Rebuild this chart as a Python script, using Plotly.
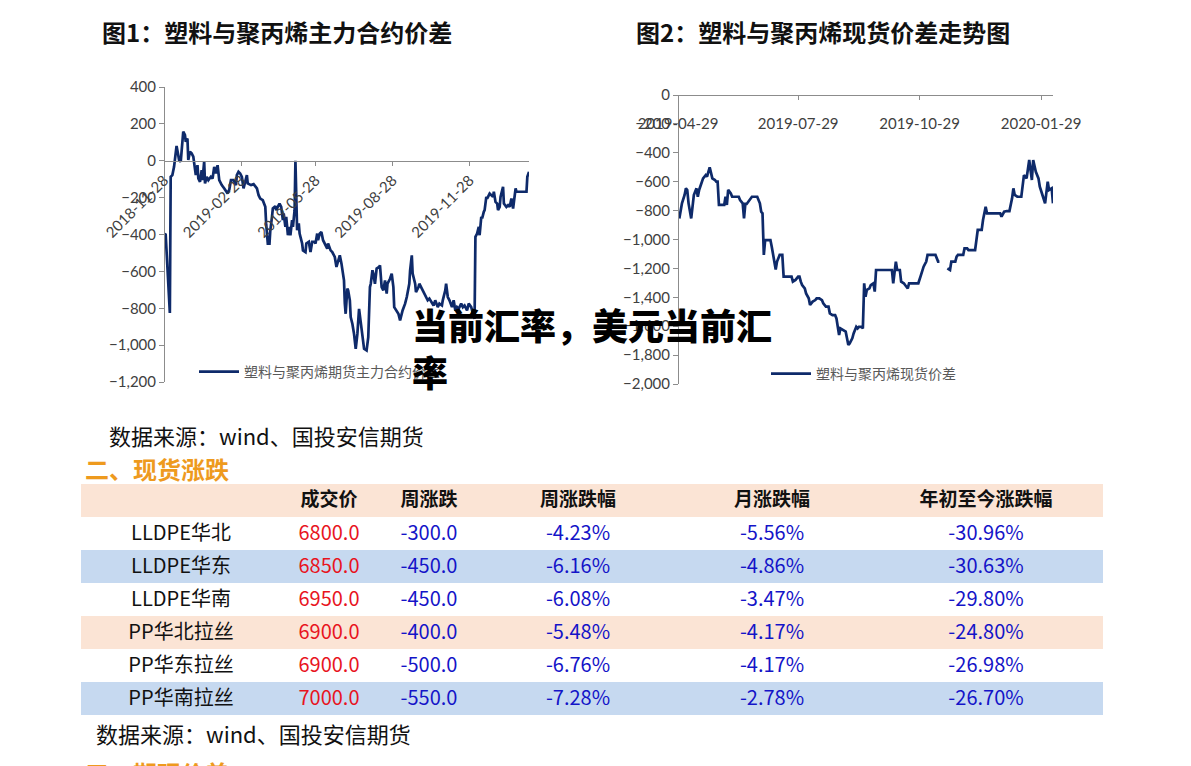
import pandas as pd
import plotly.graph_objects as go

# ---------------- data ----------------
# Chart 1: days after 2018-11-28, spread values
start1 = "2018-11-28"
days1 = [0, 2, 3, 4, 7, 8, 10, 12, 14, 15, 17, 18, 20, 21, 23, 25, 26, 28, 29, 31, 33, 35, 37, 38, 40, 41, 43, 45, 46, 48,
         49, 51, 53, 56, 58, 60, 62, 64, 66, 69, 72, 76, 78, 80, 83, 86, 87, 89, 91, 93, 95, 97, 99, 100, 103, 104, 107, 109,
         111, 113, 115, 118, 119, 121, 122, 124, 126, 127, 129, 130, 133, 134, 137, 138, 140, 142, 143, 145, 146, 148, 150,
         151, 153, 154, 156, 157, 159, 161, 162, 165, 166, 169, 170, 173, 175, 177, 180, 181, 183, 184, 186, 188, 190, 192,
         195, 196, 199, 201, 204, 206, 208, 210, 212, 215, 216, 217, 219, 220, 222, 223, 225, 227, 229, 231, 233, 235, 237,
         239, 242, 244, 246, 247, 249, 250, 252, 254, 257, 258, 260, 262, 264, 266, 267, 270, 272, 274, 275, 278, 280, 282,
         285, 288, 290, 293, 294, 296, 297, 300, 301, 304, 305, 308, 310, 313, 315, 317, 320, 322, 324, 327, 329, 332, 333,
         336, 337, 339, 341, 344, 346, 348, 350, 352, 355, 357, 359, 362, 364, 367, 368, 371, 372, 374, 376, 377, 379, 380,
         382, 383, 385, 386, 389, 391, 393, 394, 396, 398, 399, 401, 402, 405, 406, 409, 411, 413, 415, 417, 418, 420, 421,
         425, 429, 433, 434, 436]
vals1 = [-395, -400, -485, -595, -826, -87, -78, -33, 58, 80, 31, 4, -5, 58, 158, 140, 103, 121, 4, 49, 40, 22, -33, -78,
         -24, -96, -114, -51, -105, -5, -123, -87, -105, -87, -96, -33, -69, -24, -105, -132, -150, -178, -156, -105, -105,
         -132, -78, -60, -69, -87, -150, -114, -78, -123, -132, -132, -127, -141, -150, -187, -205, -214, -223, -250, -340,
         -450, -450, -377, -304, -259, -246, -268, -241, -232, -250, -322, -286, -359, -304, -404, -359, -404, -322, -359,
         -268, 0, -377, -340, -395, -449, -486, -495, -449, -440, -495, -440, -440, -449, -395, -431, -395, -386, -431, -449,
         -477, -449, -486, -495, -522, -576, -549, -513, -558, -649, -775, -830, -694, -703, -757, -848, -884, -939, -1020,
         -939, -803, -884, -957, -1020, -1029, -957, -685, -667, -594, -612, -667, -585, -576, -567, -685, -703, -649, -721,
         -667, -640, -612, -685, -794, -812, -830, -866, -812, -775, -739, -667, -594, -513, -612, -667, -712, -685, -667,
         -694, -712, -739, -757, -748, -775, -785, -757, -794, -775, -785, -757, -703, -667, -739, -757, -794, -757, -812,
         -794, -803, -775, -794, -785, -812, -775, -794, -812, -857, -413, -395, -359, -404, -304, -313, -277, -268, -196,
         -205, -178, -187, -196, -168, -223, -232, -268, -250, -196, -141, -232, -250, -241, -250, -205, -259, -223, -150,
         -168, -168, -168, -168, -87, -60]

# Chart 2: days after 2019-04-29, spot spread values (None = gap)
start2 = "2019-04-29"
days2 = [1, 2, 3, 5, 6, 7, 8, 10, 11, 12, 14, 15, 16, 18, 19, 21, 22, 24, 25, 26, 28, 29, 30, 31, 33, 35, 36, 37, 38, 40,
         41, 43, 46, 47, 49, 50, 51, 52, 54, 56, 58, 60, 62, 63, 64, 65, 66, 69, 70, 71, 72, 73, 74, 75, 77, 79, 80, 82, 84,
         86, 87, 89, 91, 92, 93, 94, 96, 97, 99, 100, 102, 104, 105, 107, 109, 110, 112, 114, 115, 117, 119, 120, 121, 122,
         123, 125, 127, 128, 129, 130, 132, 133, 135, 136, 137, 139, 140, 141, 142, 143, 145, 146, 148, 149, 150, 152, 155,
         158, 161, 162, 163, 164, 165, 166, 168, 169, 171, 172, 174, 175, 177, 179, 182, 184, 185, 186, 188, 189, 191, 193,
         195, 197, 198, 200, 204, 206, 207, 209, 210, 211, 212, 215, 216, 217, 219, 220, 223, 225, 226, 227, 229, 230, 231,
         233, 234, 235, 237, 240, 243, 244, 245, 247, 249, 251, 253, 254, 255, 257, 259, 260, 262, 263, 264, 266, 267, 268,
         269, 270, 271, 273, 274, 276, 278, 280, 281, 283, 284]
vals2 = [-854, -808, -750, -692, -646, -657, -750, -854, -750, -692, -646, -704, -657, -611, -577, -554, -565, -500, -542,
         -577, -588, -600, -600, -761, -761, -761, -704, -761, -657, -681, -704, -704, -704, -727, -750, -854, -754, -754,
         -731, -704, -704, -704, -750, -808, -819, -1107, -1004, -1004, -1004, -1050, -1096, -1142, -1207, -1153, -1107,
         -1107, -1257, -1257, -1257, -1257, -1292, -1280, -1257, -1257, -1292, -1315, -1338, -1373, -1407, -1453, -1430,
         -1419, -1407, -1407, -1419, -1442, -1465, -1465, -1511, -1523, -1523, -1546, -1604, -1661, -1615, -1627, -1638,
         -1684, -1730, -1719, -1684, -1650, -1604, -1615, -1604, -1604, -1615, -1303, -1396, -1349, -1338, -1315, -1303,
         -1361, -1211, -1211, -1211, -1211, -1211, -1211, -1303, -1211, -1153, -1211, -1211, -1292, -1303, -1315, -1338,
         -1303, -1303, -1303, -1303, -1246, -1211, -1188, -1153, -1107, -1107, -1107, -1107, -1153, -1153, None, -1200,
         -1211, -1153, -1153, -1153, -1119, -1107, -1107, -1107, -1061, -1061, -1073, -1073, -1073, -1004, -934, -934, -934,
         -865, -773, -819, -819, -819, -819, -819, -819, -842, -808, -803, -803, -715, -646, -692, -704, -704, -704, -554,
         -565, -577, -450, -542, -588, -450, -485, -531, -577, -634, -692, -750, -600, -657, -646, -750]

ticks1 = ["2018-11-28", "2019-02-28", "2019-05-28", "2019-08-28", "2019-11-28"]
ticks2 = ["2019-04-29", "2019-07-29", "2019-10-29", "2020-01-29"]
end_date = "2020-02-07"
ytick1 = list(range(-1200, 401, 200))
ytick2 = list(range(-2000, 1, 200))

name1 = "塑料与聚丙烯期货主力合约价差"
name2 = "塑料与聚丙烯现货价差"
title1 = "图1：塑料与聚丙烯主力合约价差"
title2 = "图2：塑料与聚丙烯现货价差走势图"
source = "数据来源：wind、国投安信期货"
sec2 = "二、现货涨跌"
sec3 = "三、期现价差"
overlay = "当前汇率，美元当前汇<br>率"

tbl_header = ["", "成交价", "周涨跌", "周涨跌幅", "月涨跌幅", "年初至今涨跌幅"]
products = ["LLDPE华北", "LLDPE华东", "LLDPE华南", "PP华北拉丝", "PP华东拉丝", "PP华南拉丝"]
price = ["6800.0", "6850.0", "6950.0", "6900.0", "6900.0", "7000.0"]
wk_chg = ["-300.0", "-450.0", "-450.0", "-400.0", "-500.0", "-550.0"]
wk_pct = ["-4.23%", "-6.16%", "-6.08%", "-5.48%", "-6.76%", "-7.28%"]
mo_pct = ["-5.56%", "-4.86%", "-3.47%", "-4.17%", "-4.17%", "-2.78%"]
ytd_pct = ["-30.96%", "-30.63%", "-29.80%", "-24.80%", "-26.98%", "-26.70%"]

# ---------------- figure ----------------
W, H = 1191, 766
px = lambda v: v / W
py = lambda v: 1 - v / H

x1 = pd.to_datetime(start1) + pd.to_timedelta(days1, unit="D")
x2 = pd.to_datetime(start2) + pd.to_timedelta(days2, unit="D")

LINE = "#0E2A6A"
AX = "#8C8C8C"
TXT = "#404040"
NUMF = "Lato, Noto Sans CJK SC, sans-serif"
CJK = "Noto Sans CJK SC, sans-serif"

fig = go.Figure()
fig.add_trace(go.Scatter(x=x1, y=vals1, mode="lines", name=name1, line=dict(color=LINE, width=2.7),
                         xaxis="x", yaxis="y", legend="legend"))
fig.add_trace(go.Scatter(x=x2, y=vals2, mode="lines", name=name2, line=dict(color=LINE, width=2.7),
                         connectgaps=False, xaxis="x2", yaxis="y2", legend="legend2"))

y1dom = [py(382), py(87)]
y2dom = [py(384), py(95)]
zero_pos1 = y1dom[0] + (0 - (-1200)) / 1600 * (y1dom[1] - y1dom[0])

fig.add_trace(go.Table(
    domain=dict(x=[px(81), px(1103)], y=[0.04, py(484)]),
    columnwidth=[200, 96, 104, 194, 194, 234],
    header=dict(values=tbl_header, height=33,
                fill_color="#FBE4D5", line=dict(width=0, color="rgba(0,0,0,0)"),
                font=dict(family=CJK, size=19, color="#111111", weight="bold"), align="center"),
    cells=dict(values=[products, price, wk_chg, wk_pct, mo_pct, ytd_pct], height=33,
               fill_color=[["#FFFFFF", "#C6D9F0", "#FFFFFF", "#FBE4D5", "#FFFFFF", "#C6D9F0"]],
               line=dict(width=0, color="rgba(0,0,0,0)"),
               font=dict(family=CJK, size=20,
                         color=["#111111", "#E8141E", "#1414C8", "#1414C8", "#1414C8", "#1414C8"]),
               align="center"),
))

axis_common = dict(showgrid=False, zeroline=False, showline=True, linecolor=AX, linewidth=1,
                   ticks="outside", tickcolor=AX, ticklen=5, tickfont=dict(family=NUMF, size=15, color=TXT))

fig.update_layout(
    width=W, height=H, margin=dict(l=0, r=0, t=0, b=0, autoexpand=False),
    paper_bgcolor="white", plot_bgcolor="white",
    xaxis=dict(axis_common, domain=[px(164), px(529)], anchor="free", position=zero_pos1,
               type="date", range=[start1, end_date], tickvals=ticks1, ticktext=ticks1, tickangle=-45,
               ticklen=4),
    yaxis=dict(axis_common, domain=y1dom, anchor="free", position=px(164), range=[-1200, 400],
               tickvals=ytick1, tickformat=","),
    xaxis2=dict(axis_common, domain=[px(678), px(1053)], anchor="free", position=y2dom[1], side="bottom",
                type="date", range=[start2, end_date], tickvals=ticks2, ticktext=ticks2, tickangle=0,
                ticklen=4, ticklabelstandoff=11),
    yaxis2=dict(axis_common, domain=y2dom, anchor="free", position=px(678), range=[-2000, 0],
                tickvals=ytick2, tickformat=","),
    legend=dict(x=px(194), y=py(372), xanchor="left", yanchor="middle", bgcolor="rgba(0,0,0,0)",
                font=dict(family=CJK, size=14, color="#595959"), itemwidth=40),
    legend2=dict(x=px(766), y=py(374), xanchor="left", yanchor="middle", bgcolor="rgba(0,0,0,0)",
                 font=dict(family=CJK, size=14, color="#595959"), itemwidth=40),
    showlegend=True,
)

ann = [
    dict(text="<b>%s</b>" % title1, x=px(100), y=py(32), xanchor="left", yanchor="middle",
         font=dict(family=CJK, size=24, color="#111111")),
    dict(text="<b>%s</b>" % title2, x=px(634), y=py(32), xanchor="left", yanchor="middle",
         font=dict(family=CJK, size=24, color="#111111")),
    dict(text=source, x=px(107), y=py(435), xanchor="left", yanchor="middle",
         font=dict(family=CJK, size=22, color="#111111")),
    dict(text="<b>%s</b>" % sec2, x=px(83), y=py(468), xanchor="left", yanchor="middle",
         font=dict(family=CJK, size=24, color="#EE9A1E")),
    dict(text=source, x=px(94), y=py(733), xanchor="left", yanchor="middle",
         font=dict(family=CJK, size=22, color="#111111")),
    dict(text="<b>%s</b>" % sec3, x=px(83), y=py(772), xanchor="left", yanchor="middle",
         font=dict(family=CJK, size=24, color="#EE9A1E")),
    dict(text=overlay, x=px(410), y=py(296), xanchor="left", yanchor="top", align="left",
         font=dict(family=CJK, size=36, color="#000000", weight=900)),
]
for a in ann:
    a.update(xref="paper", yref="paper", showarrow=False)
fig.update_layout(annotations=ann)

fig.write_html("out.html", config={"displayModeBar": False},
               post_script="document.body.style.margin='0px';document.body.style.padding='0px';")
